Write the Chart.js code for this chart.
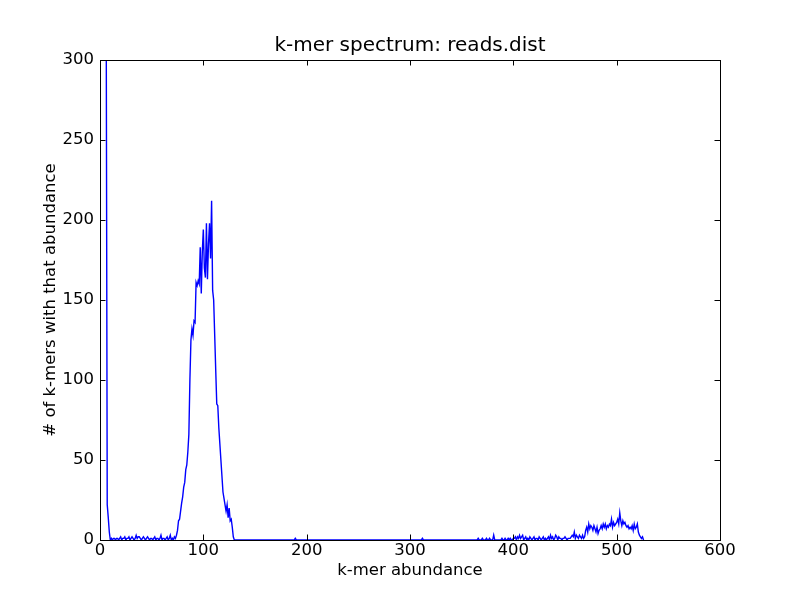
<!DOCTYPE html>
<html>
<head>
<meta charset="utf-8">
<script src="https://cdn.jsdelivr.net/npm/chart.js@4.4.1/dist/chart.umd.min.js"></script>
<style>
  body { margin: 0; background: #fff; }
  #box { width: 800px; height: 600px; }
</style>
</head>
<body>
<div id="box"><canvas id="myChart" width="800" height="600"></canvas></div>
<script>
// k-mer counts, one value per abundance starting at k = 1
var firstK = 1;

// k = 1..69 (error spike, then noise)
var headCounts = [
  9800, 4200, 2100, 1100, 640, 330, 22, 14, 5, 0,
  1, 0, 1, 1, 0, 1, 1, 0, 1, 2,
  0, 1, 1, 2, 0, 1, 1, 2, 0, 1,
  2, 1, 0, 1, 3, 1, 2, 2, 1, 0,
  1, 2, 1, 0, 1, 2, 1, 0, 1, 1,
  0, 1, 2, 0, 1, 1, 0, 1, 3, 0,
  1, 1, 0, 1, 2, 0, 1, 3, 0
];

// k = 70..131 (main peak)
var peakCounts = [
  1, 0, 2, 1, 3, 6, 12, 13, 18, 23,
  27, 33, 36, 44, 47, 55, 66, 100, 125, 132,
  128, 137, 136, 161, 159, 162, 160, 183, 154, 180,
  194, 170, 164, 198, 163, 185, 198, 176, 212, 156,
  150, 128, 106, 85, 84, 70, 60, 50, 40, 30,
  26, 22, 18, 22, 14, 20, 12, 13, 8, 2,
  0, 0
];

// k = 132..366 (almost empty)
var gapCounts = [
  0, 0, 0, 0, 0, 0, 0, 0, 0, 0, 0, 0, 0, 0, 0, 0, 0, 0, 0, 0,
  0, 0, 0, 0, 0, 0, 0, 0, 0, 0, 0, 0, 0, 0, 0, 0, 0, 0, 0, 0,
  0, 0, 0, 0, 0, 0, 0, 0, 0, 0, 0, 0, 0, 0, 0, 0, 0, 1, 0, 0,
  0, 0, 0, 0, 0, 0, 0, 0, 0, 0, 0, 0, 0, 0, 0, 0, 0, 0, 0, 0,
  0, 0, 0, 0, 0, 0, 0, 0, 0, 0, 0, 0, 0, 0, 0, 0, 0, 0, 0, 0,
  0, 0, 0, 0, 0, 0, 0, 0, 0, 0, 0, 0, 0, 0, 0, 0, 0, 0, 0, 0,
  0, 0, 0, 0, 0, 0, 0, 0, 0, 0, 0, 0, 0, 0, 0, 0, 0, 0, 0, 0,
  0, 0, 0, 0, 0, 0, 0, 0, 0, 0, 0, 0, 0, 0, 0, 0, 0, 0, 0, 0,
  0, 0, 0, 0, 0, 0, 0, 0, 0, 0, 0, 0, 0, 0, 0, 0, 0, 0, 0, 0,
  1, 0, 0, 0, 0, 0, 0, 0, 0, 0, 0, 0, 0, 0, 0, 0, 0, 0, 0, 0,
  0, 0, 0, 0, 0, 0, 0, 0, 0, 0, 0, 0, 0, 0, 0, 0, 0, 0, 0, 0,
  0, 0, 0, 0, 0, 0, 0, 0, 0, 0, 0, 0, 0, 0, 1
];

// k = 367..526 (second, small peak)
var tailCounts = [
  0, 0, 0, 1, 0, 0, 0, 1, 0, 0, 1, 0, 0, 0, 3, 0,
  0, 0, 0, 0, 0, 0, 1, 0, 0, 1, 0, 0, 1, 0, 1, 0, 0, 1,
  1, 2, 0, 2, 1, 3, 1, 2, 3, 0, 1, 2, 0,
  1, 0, 2, 1, 0, 1, 2, 0, 1, 1, 0, 2, 1, 0, 1, 2, 0, 1, 0,
  1, 2, 0, 3, 1, 2, 0, 1, 3, 2, 0, 2,
  1, 1, 0, 1, 1, 2, 1, 0, 1, 1, 1,
  2, 3, 2, 5, 1, 3, 2, 1, 3, 2, 1, 3, 1, 2,
  6, 8, 5, 10, 7, 9, 8, 6, 9, 7, 5, 8, 4, 6, 7,
  9, 7, 10, 8, 10, 7, 9, 8, 10, 9, 13, 8, 11, 9, 10, 11,
  13, 10, 17, 12, 9, 12, 10, 11, 9, 8, 9, 7, 8, 7, 9, 6, 10, 7, 8, 10, 5, 3, 2, 1, 2, 0
];

var xTicks = [0, 100, 200, 300, 400, 500, 600];
var yTicks = [0, 50, 100, 150, 200, 250, 300];

var counts = [].concat(headCounts, peakCounts, gapCounts, tailCounts);
var points = counts.map(function (c, i) {
  return { x: firstK + i, y: c };
});

// frame round the plot and matplotlib style ticks pointing inwards
var frameTicks = {
  id: 'frameTicks',
  afterDatasetsDraw: function (chart) {
    var ctx = chart.ctx;
    var a = chart.chartArea;
    var xs = chart.scales.x;
    var ys = chart.scales.y;
    var len = 5.5;
    ctx.save();
    ctx.strokeStyle = '#000';
    ctx.lineWidth = 1;
    ctx.beginPath();
    xs.ticks.forEach(function (t) {
      var px = Math.round(xs.getPixelForValue(t.value)) + 0.5;
      ctx.moveTo(px, a.bottom); ctx.lineTo(px, a.bottom - len);
      ctx.moveTo(px, a.top); ctx.lineTo(px, a.top + len);
    });
    ys.ticks.forEach(function (t) {
      var py = Math.round(ys.getPixelForValue(t.value)) + 0.5;
      ctx.moveTo(a.left, py); ctx.lineTo(a.left + len, py);
      ctx.moveTo(a.right, py); ctx.lineTo(a.right - len, py);
    });
    ctx.stroke();
    ctx.strokeRect(Math.round(a.left) + 0.5, Math.round(a.top) + 0.5,
      Math.round(a.right - a.left), Math.round(a.bottom - a.top));
    ctx.restore();
  }
};

Chart.defaults.color = '#000';
Chart.defaults.font.family = '"DejaVu Sans", sans-serif';
Chart.defaults.font.size = 16.5;

const config = {
  type: 'line',
  data: {
    datasets: [{
      label: 'reads.dist',
      data: points,
      borderColor: '#0000ff',
      borderWidth: 1.4,
      pointRadius: 0,
      tension: 0,
      fill: false
    }]
  },
  options: {
    responsive: false,
    animation: false,
    layout: { padding: { left: 0, right: 80, top: 0, bottom: 0 } },
    plugins: {
      legend: { display: false },
      tooltip: { enabled: false },
      title: {
        display: true,
        fullSize: false,
        text: 'k-mer spectrum: reads.dist',
        font: { size: 20, weight: 'normal' },
        color: '#000',
        padding: { top: 34, bottom: 2 }
      }
    },
    scales: {
      x: {
        type: 'linear',
        min: xTicks[0],
        max: xTicks[xTicks.length - 1],
        afterFit: function (s) { s.height = 60; },
        afterBuildTicks: function (s) {
          s.ticks = xTicks.map(function (v) { return { value: v }; });
        },
        ticks: { padding: 1, maxRotation: 0, autoSkip: false },
        grid: { display: false, drawTicks: false },
        border: { display: false },
        title: {
          display: true,
          text: 'k-mer abundance',
          padding: { top: 0, bottom: 19 }
        }
      },
      y: {
        type: 'linear',
        min: yTicks[0],
        max: yTicks[yTicks.length - 1],
        afterFit: function (s) { s.width = 100; },
        afterBuildTicks: function (s) {
          s.ticks = yTicks.map(function (v) { return { value: v }; });
        },
        ticks: { padding: 6, autoSkip: false },
        grid: { display: false, drawTicks: false },
        border: { display: false },
        title: {
          display: true,
          text: '# of k-mers with that abundance',
          padding: { top: 41, bottom: 0 }
        }
      }
    }
  },
  plugins: [frameTicks]
};

const myChart = new Chart(document.getElementById('myChart'), config);
</script>
</body>
</html>
